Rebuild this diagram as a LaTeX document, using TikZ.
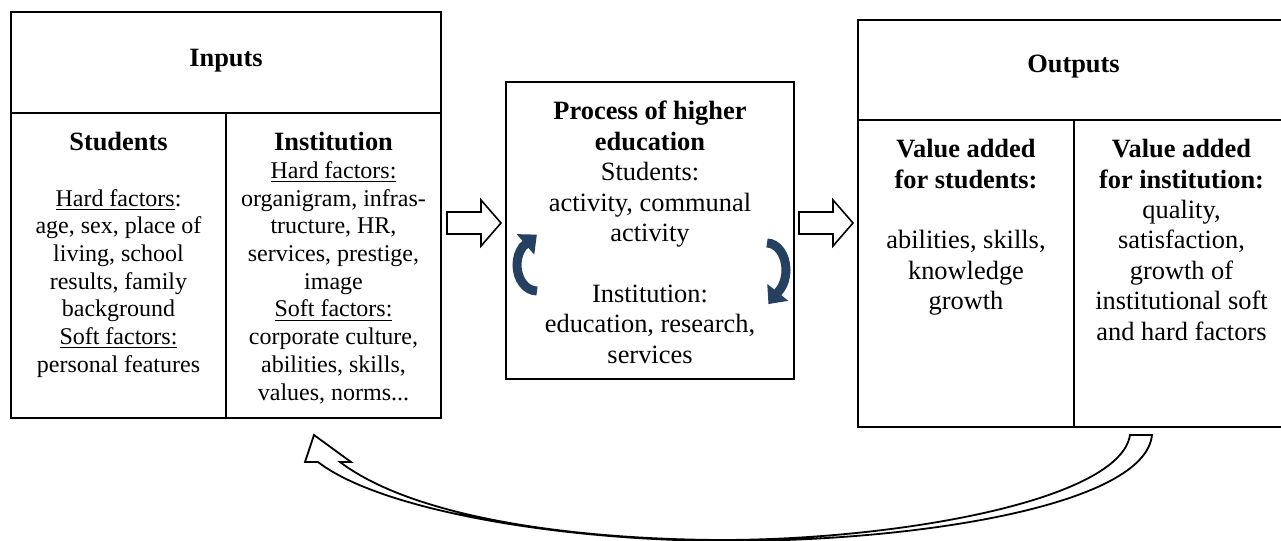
\documentclass[tikz,border=0pt]{standalone}
\usepackage{fontspec}
\setmainfont{Liberation Serif}
\usetikzlibrary{arrows.meta,calc}
\definecolor{cyclenavy}{RGB}{37,64,97}
\tikzset{
  blockarrow/.pic={
    \draw[flowarrow] (0,-11) -- (34,-11) -- (34,-23) -- (54,0) -- (34,23) -- (34,11) -- (0,11) -- cycle;
  }
}
\begin{document}
\begin{tikzpicture}[x=0.5pt,y=-0.5pt,
  cell/.style={draw, line width=1.2pt, rectangle, inner sep=0pt, outer sep=0pt, anchor=north west},
  smalltxt/.style={align=center, inner sep=0pt, anchor=north, font=\fontsize{12}{13.85}\selectfont},
  bigtxt/.style={align=center, inner sep=0pt, anchor=north, font=\fontsize{13.2}{15.2}\selectfont},
  titletxt/.style={inner sep=0pt, anchor=base, font=\fontsize{13.2}{15.2}\selectfont\bfseries},
  flowarrow/.style={draw, fill=white, line width=0.8pt, line join=miter},
  loopflow/.style={draw=cyclenavy, line width=4.5pt, -{Triangle[width=13pt,length=7.5pt]}},
  feedback/.style={draw, fill=white, line width=0.9pt, line join=miter}]
\useasboundingbox (0,0) rectangle (1281,541);

% Inputs block
\node[cell, minimum width=215pt, minimum height=50.5pt] (inhead) at (11,12) {};
\node[cell, minimum width=107.5pt, minimum height=152.5pt] (instud) at (11,113) {};
\node[cell, minimum width=107.5pt, minimum height=152.5pt] (ininst) at (226,113) {};
\node[titletxt] (intitle) at (226,66) {Inputs};
\node[smalltxt] (instudtxt) at (118.5,132) {%
  {\bfseries\fontsize{13.2}{13.85}\selectfont Students}\\[13.85pt]
  \underline{Hard factors}:\\ age, sex, place of\\ living, school\\ results, family\\
  background\\ \underline{Soft factors:}\\ personal features};
\node[smalltxt] (ininsttxt) at (333.5,132) {%
  {\bfseries\fontsize{13.2}{13.85}\selectfont Institution}\\
  \underline{Hard factors:}\\ organigram, infras-\\ tructure, HR,\\ services, prestige,\\
  image\\ \underline{Soft factors:}\\ corporate culture,\\ abilities, skills,\\ values, norms...};

% Process block
\node[cell, minimum width=144pt, minimum height=148.5pt] (proc) at (506,82) {};
\node[bigtxt] (proctxt) at (650,101) {%
  \textbf{Process of higher}\\ \textbf{education}\\ Students:\\ activity, communal\\
  activity\\[15.2pt] Institution:\\ education, research,\\ services};

% Outputs block
\node[cell, minimum width=215.5pt, minimum height=50pt] (outhead) at (858,20) {};
\node[cell, minimum width=108pt, minimum height=153.5pt] (outstud) at (858,120) {};
\node[cell, minimum width=107.5pt, minimum height=153.5pt] (outinst) at (1074,120) {};
\node[titletxt] (outtitle) at (1073.5,72) {Outputs};
\node[bigtxt] (outstudtxt) at (966,139) {%
  \textbf{Value added}\\ \textbf{for students:}\\[15.2pt]
  abilities, skills,\\ knowledge\\ growth};
\node[bigtxt] (outinsttxt) at (1181.5,139) {%
  \textbf{Value added}\\ \textbf{for institution:}\\ quality,\\ satisfaction,\\
  growth of\\ institutional soft\\ and hard factors};

% Flow arrows between the blocks
\pic at (447,223) {blockarrow};
\pic at (799,223) {blockarrow};

% Cycle inside the process
\draw[loopflow] (537,291) arc[start angle=90, end angle=225, x radius=20, y radius=26] -- ++(14,-12);
\draw[loopflow] (767,243) arc[start angle=-90, end angle=45, x radius=19, y radius=27] -- ++(-12,15);

% Feedback arrow from outputs back to inputs
\draw[feedback] (314,435) -- (351,462) -- (340,462)
  .. controls (410,515) and (560,539) .. (720,540)
  .. controls (900,540) and (1120,500) .. (1130,435)
  -- (1152,435)
  .. controls (1145,505) and (920,541) .. (730,541)
  .. controls (560,541) and (380,510) .. (318,462)
  -- (305,462) -- cycle;
\end{tikzpicture}
\end{document}
